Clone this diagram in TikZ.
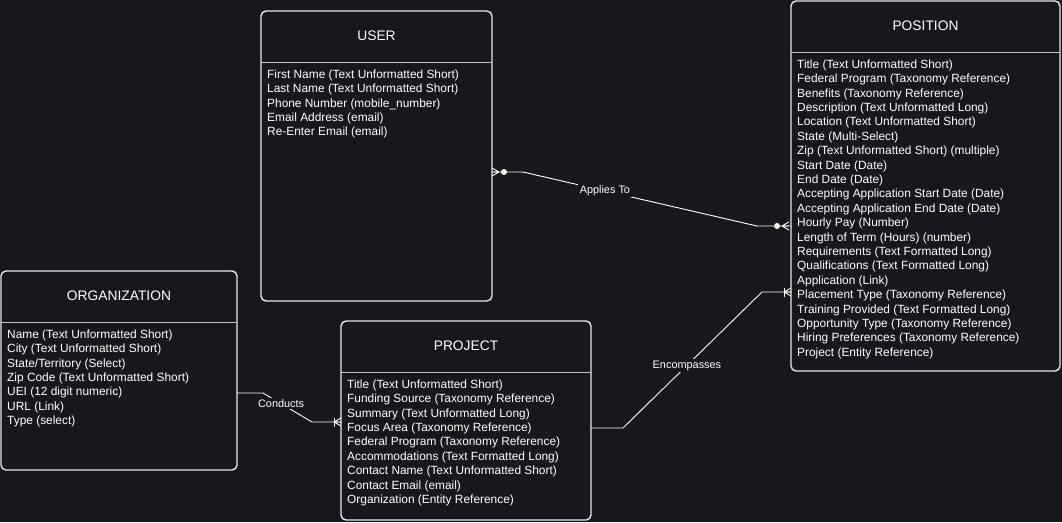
\documentclass[tikz,border=0pt]{standalone}
\usepackage{fontspec}
\setmainfont{Liberation Sans}
\usepackage{xcolor}
\usepackage{tikz}
\usetikzlibrary{positioning}
\usetikzlibrary{calc}

\definecolor{canvas}{HTML}{19161E}
\definecolor{inkline}{HTML}{E6E6E6}

\tikzset{
 entity/.style={draw=inkline, line width=1.4pt, rounded corners=5pt, fill=canvas,
   anchor=north west, inner sep=0pt, outer sep=0pt},
 headline/.style={draw=inkline!85!black, line width=1pt},
 title/.style={text=white, font=\fontsize{13.8}{16}\selectfont, inner sep=0pt},
 fields/.style={text=white, font=\fontsize{11.9}{14.4}\selectfont, align=left,
   anchor=north west, inner sep=0pt},
 rel/.style={draw=white, line width=0.9pt},
 rellabel/.style={fill=canvas, text=white, font=\fontsize{10.9}{13}\selectfont, inner sep=1.5pt},
 zeromany/.pic={
   \draw[rel] (7,0) -- (0,-4) (7,0) -- (0,0) (7,0) -- (0,4);
   \fill[white] (12,0) circle (3pt);
 },
 onemany/.pic={
   \draw[rel] (7,-4.5) -- (7,4.5);
   \draw[rel] (7,0) -- (0,-4) (7,0) -- (0,0) (7,0) -- (0,4);
 }
}

\begin{document}
\begin{tikzpicture}[x=1pt, y=-1pt]

\fill[canvas] (0,0) rectangle (1062,522);
\useasboundingbox (0,0) rectangle (1062,522);

% entities
\node[entity, minimum width=231pt, minimum height=290pt] (user) at (261,11) {};
\node[entity, minimum width=236pt, minimum height=199pt] (org) at (1,271) {};
\node[entity, minimum width=250pt, minimum height=199pt] (project) at (341,321) {};
\node[entity, minimum width=269pt, minimum height=370pt] (position) at (791,1) {};

\foreach \b in {user,org,project,position}
 \draw[headline] ($(\b.north west)+(0,51)$) -- ($(\b.north east)+(0,51)$);

\node[title] (usertitle) at ($(user.north)+(0,25)$) {USER};
\node[title] (orgtitle) at ($(org.north)+(0,25)$) {ORGANIZATION};
\node[title] (projecttitle) at ($(project.north)+(0,25)$) {PROJECT};
\node[title] (positiontitle) at ($(position.north)+(0,25)$) {POSITION};

\node[fields] (userfields) at ($(user.north west)+(6,58.5)$)
{First Name (Text Unformatted Short)\\
Last Name (Text Unformatted Short)\\
Phone Number (mobile\_number)\\
Email Address (email)\\
Re-Enter Email (email)};

\node[fields] (orgfields) at ($(org.north west)+(6,58.5)$)
{Name (Text Unformatted Short)\\
City (Text Unformatted Short)\\
State/Territory (Select)\\
Zip Code (Text Unformatted Short)\\
UEI (12 digit numeric)\\
URL (Link)\\
Type (select)};

\node[fields] (projectfields) at ($(project.north west)+(6,58.5)$)
{Title (Text Unformatted Short)\\
Funding Source (Taxonomy Reference)\\
Summary (Text Unformatted Long)\\
Focus Area (Taxonomy Reference)\\
Federal Program (Taxonomy Reference)\\
Accommodations (Text Formatted Long)\\
Contact Name (Text Unformatted Short)\\
Contact Email (email)\\
Organization (Entity Reference)};

\node[fields] (positionfields) at ($(position.north west)+(6,58.5)$)
{Title (Text Unformatted Short)\\
Federal Program (Taxonomy Reference)\\
Benefits (Taxonomy Reference)\\
Description (Text Unformatted Long)\\
Location (Text Unformatted Short)\\
State (Multi-Select)\\
Zip (Text Unformatted Short) (multiple)\\
Start Date (Date)\\
End Date (Date)\\
Accepting Application Start Date (Date)\\
Accepting Application End Date (Date)\\
Hourly Pay (Number)\\
Length of Term (Hours) (number)\\
Requirements (Text Formatted Long)\\
Qualifications (Text Formatted Long)\\
Application (Link)\\
Placement Type (Taxonomy Reference)\\
Training Provided (Text Formatted Long)\\
Opportunity Type (Taxonomy Reference)\\
Hiring Preferences (Taxonomy Reference)\\
Project (Entity Reference)};

% relationship ends
\coordinate (userapply) at ($(user.north east)+(0,161)$);
\coordinate (posapply) at ($(position.north west)+(0,225)$);
\coordinate (orgconduct) at ($(org.north east)+(0,122)$);
\coordinate (projconduct) at ($(project.north west)+(0,101)$);
\coordinate (projencomp) at ($(project.north east)+(0,107)$);
\coordinate (posencomp) at ($(position.north west)+(0,291)$);

\draw[rel] (userapply) -- ++(31,0)
  -- node[rellabel, pos=0.35] {Applies To} ($(posapply)+(-34,0)$) -- (posapply);
\draw[rel] (orgconduct) -- ++(26,0)
  -- node[rellabel, pos=0.37] {Conducts} ($(projconduct)+(-29,0)$) -- (projconduct);
\draw[rel] (projencomp) -- ++(32,0)
  -- node[rellabel, pos=0.46] {Encompasses} ($(posencomp)+(-29,0)$) -- (posencomp);

\pic at (userapply) {zeromany};
\pic[rotate=180] at ($(posapply)+(-2,0)$) {zeromany};
\pic[rotate=180] at (projconduct) {onemany};
\pic[rotate=180] at (posencomp) {onemany};

\end{tikzpicture}
\end{document}
